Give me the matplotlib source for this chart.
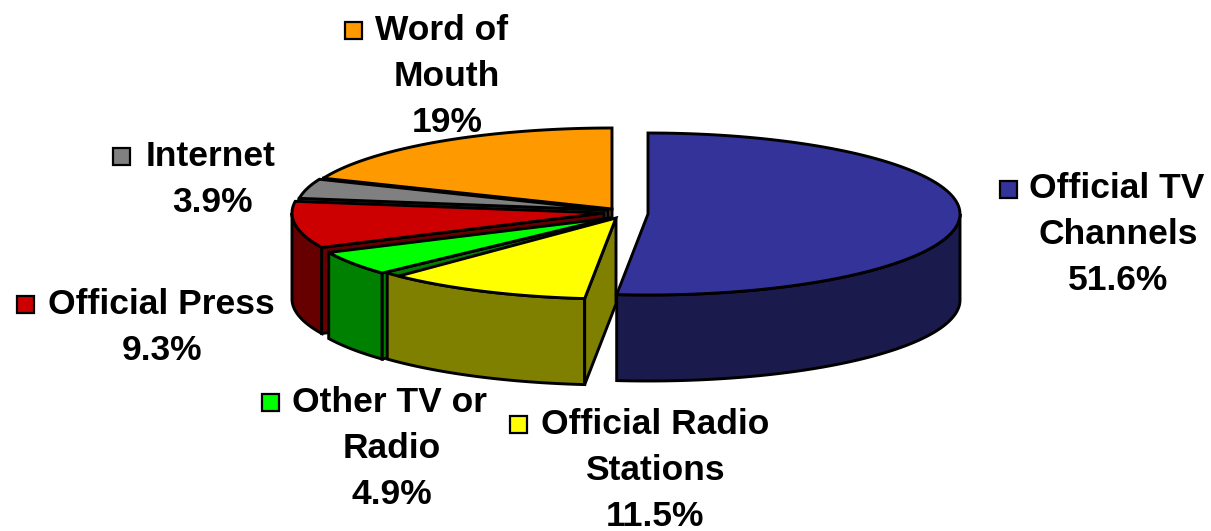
import numpy as np
import matplotlib
matplotlib.use("Agg")
import matplotlib.pyplot as plt
from matplotlib.patches import Polygon, Rectangle

categories = ["Official TV\nChannels", "Official Radio\nStations", "Other TV or\nRadio",
              "Official Press", "Internet", "Word of\nMouth"]
values = [51.6, 11.5, 4.9, 9.3, 3.9, 19.0]
value_labels = ["51.6%", "11.5%", "4.9%", "9.3%", "3.9%", "19%"]
top_colors = ["#333399", "#ffff00", "#00ff00", "#cc0000", "#808080", "#ff9900"]
wall_colors = ["#1a1a4d", "#808000", "#008000", "#660000", "#404040", "#804d00"]

# layout (pixels)
W, H = 1211, 531
RX, RY, DEPTH = 312, 81, 86
apexes = [(648, 214), (616, 218), (611, 218), (604, 213), (608, 210), (612, 209)]
top_trim = [0, 3, 0, 0, 0, 0]
label_pos = [(1118, 233, 1000), (655, 468, 510), (392, 446, 262), (162, 325, 17), (212, 177, 113), (447, 74, 345)]
label_first_line_x = [1117, 655, 390, 161, 211, 442]

plt.rcParams['font.family'] = ['Liberation Sans', 'DejaVu Sans']
fig = plt.figure(figsize=(W / 100, H / 100), dpi=100)
ax = fig.add_axes([0, 0, 1, 1])
ax.set_xlim(0, W)
ax.set_ylim(H, 0)
ax.axis('off')

edges = np.minimum(np.cumsum([0] + values) / 100 * 360, 360)
LW = 2.1


def arc(apex, a0, a1):
    t = np.radians(np.linspace(a0, a1, 120))
    return np.column_stack([apex[0] + RX * np.sin(t), apex[1] - RY * np.cos(t)])


z = 2
for i in [5, 4, 3, 2, 1, 0]:
    a0, a1 = edges[i], edges[i + 1]
    ap = np.array(apexes[i], float)
    # outer wall: the front-facing part of the arc (90..270 degrees)
    lo, hi = max(a0, 90), min(a1, 270)
    if lo < hi:
        rim = arc(ap, lo, hi)
        wall = np.vstack([rim, (rim + [0, DEPTH])[::-1]])
        ax.add_patch(Polygon(wall, closed=True, fc=wall_colors[i], ec='black', lw=LW,
                             joinstyle='miter', zorder=z))
    # radial cut wall on the clockwise-start side
    if i >= 1:
        p = arc(ap, a0, a0)[0]
        cut = np.array([ap, p, p + [0, DEPTH], ap + [0, DEPTH]])
        ax.add_patch(Polygon(cut, closed=True, fc=wall_colors[i], ec='black', lw=LW,
                             joinstyle='miter', zorder=z + 0.5))
    top = np.vstack([ap, arc(ap, a0, a1 - top_trim[i])])
    ax.add_patch(Polygon(top, closed=True, fc=top_colors[i], ec='black', lw=LW,
                         joinstyle='miter', zorder=z + 1))
    z += 2

FS = 25.5
STEP = 46
for i, (cx, cy, kx) in enumerate(label_pos):
    lines = categories[i].split("\n") + [value_labels[i]]
    n = len(lines)
    for j, line in enumerate(lines):
        y = cy + 2 + (j - (n - 1) / 2) * STEP
        x = label_first_line_x[i] if j == 0 else cx
        ax.text(x, y, line, ha='center', va='center', fontsize=FS, fontweight='bold',
                color='black', zorder=50)
    ky = cy + 2 + (0 - (n - 1) / 2) * STEP
    ax.add_patch(Rectangle((kx, ky - 8), 17, 17, fc=top_colors[i], ec='black', lw=1.6, zorder=50))

fig.savefig("out.png", dpi=100, facecolor='white')
